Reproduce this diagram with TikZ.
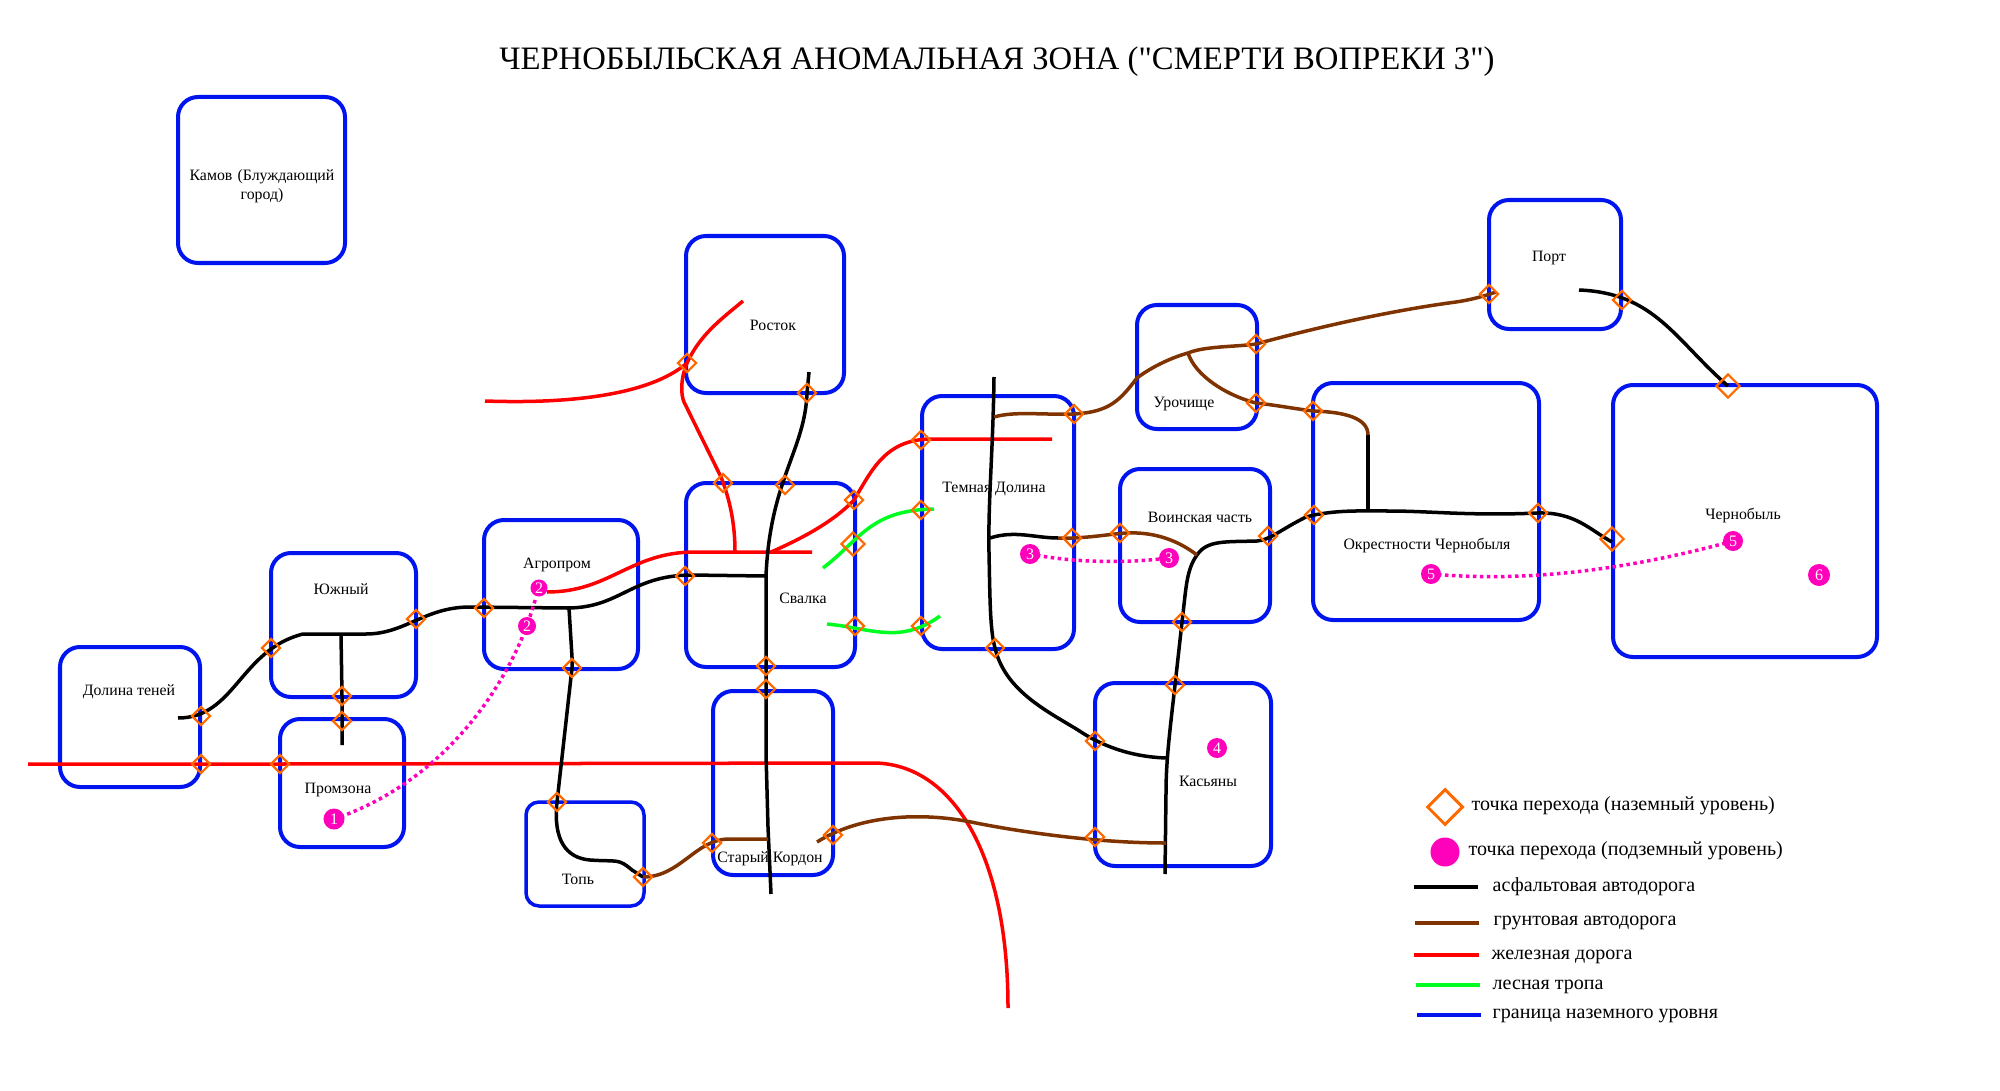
\documentclass[tikz,border=0pt]{standalone}
\usepackage{fontspec}
\setmainfont[Ligatures=TeXOff]{Liberation Serif}
\usetikzlibrary{shapes.geometric,backgrounds}
\definecolor{zoneblue}{RGB}{0,20,240}
\definecolor{transorange}{RGB}{255,106,0}
\definecolor{undermag}{RGB}{255,0,187}
\definecolor{dirtbrown}{RGB}{127,51,0}
\definecolor{forestgreen}{RGB}{0,255,33}
\tikzset{
  zone/.style={draw=zoneblue,line width=.04cm,rounded corners=.2cm},
  zonename/.style={font=\fontsize{4.5pt}{5.4pt}\selectfont,inner sep=0pt,align=center},
  trans/.style={draw=transorange,shape=diamond,aspect=1,line width=.022cm,inner sep=0pt,minimum size=.19cm},
  bigtrans/.style={trans,minimum size=.24cm},
  under/.style={circle,fill=undermag,text=white,inner sep=0pt,minimum size=.2cm,font=\fontsize{4.55pt}{5.4pt}\selectfont},
  asphalt/.style={draw=black,line width=.035cm},
  dirt/.style={draw=dirtbrown,line width=.035cm},
  rail/.style={draw=red,line width=.035cm},
  trail/.style={draw=forestgreen,line width=.035cm},
  tunnel/.style={draw=undermag,line width=.035cm,dash pattern=on .035cm off .035cm},
  legendtext/.style={font=\fontsize{5.7pt}{6.8pt}\selectfont,inner sep=0pt,anchor=west},
}
\begin{document}
\begin{tikzpicture}[x=.01cm,y=-.01cm]
\useasboundingbox (0,0) rectangle (2000,1091);

\node[font=\fontsize{9.3pt}{11pt}\selectfont,inner sep=0pt] (title) at (997,62) {ЧЕРНОБЫЛЬСКАЯ АНОМАЛЬНАЯ ЗОНА ("СМЕРТИ ВОПРЕКИ 3")};

% zone names
\node[zonename,text width=.01cm*160] (kamov) at (262,186) {Камов (Блуждающий город)};
\foreach \n/\x/\y/\t in {dolinaten/129/692/Долина теней,yuzhny/341/589/Южный,promzona/338/790/Промзона,
  agroprom/557/565/Агропром,top/578/879/Топь,rostok/773/325/Росток,svalka/803/598/Свалка,
  kordon/770/859/Старый Кордон,temnaya/994/489/Темная Долина,urochishe/1184/404/Урочище,
  voinskaya/1200/517/Воинская часть,kasyany/1208/781/Касьяны,okrest/1427/546/Окрестности Чернобыля,
  port/1549/258/Порт,chernobyl/1743/516/Чернобыль}
  \node[zonename] (\n) at (\x,\y) {\t};

% ground level transitions
\foreach \n/\x/\y in {dolE/201/716,dolR/201/764,proR/280/764,yuW/271/648,yuE/416/619,yuS/342/696,proN/342/721,
  agW/484/608,agS/572/668,topN/557/802,topE/643/877,svW/685/576,rosW/687/363,rosS/807/393,
  svNr/723/483,svNb/785/485,svEr/854/500,svEg/855/626,svS/766/666,korN/766/689,
  temWr/921/440,temWg/921/510,temWl/921/626,temS/995/648,temEu/1074/414,temEl/1072/538,
  voiW/1120/533,voiE/1268/536,voiS/1182/622,kasN/1175/685,uroEu/1256/344,uroEl/1256/403,
  okrWu/1313/411,okrWl/1314/515,okrE/1538/513,porW/1489/294,porE/1622/300,
  korW/712/843,korE/833/835,kasWu/1095/741,kasWl/1095/837}
  \node[trans] (\n) at (\x,\y) {};
\node[bigtrans] (svEb) at (853,544) {};
\node[bigtrans] (cheN) at (1728,386) {};
\node[bigtrans] (cheW) at (1612,539) {};

% underground level transitions
\node[under,minimum size=.21cm] (uA) at (334,819) {1};
\node[under,minimum size=.17cm] (uBa) at (539,588) {2};
\node[under,minimum size=.18cm] (uBb) at (527,626) {2};
\node[under] (uCa) at (1030,554) {3};
\node[under] (uCb) at (1169,558) {3};
\node[under] (uD) at (1217,748) {4};
\node[under] (uEa) at (1431,574) {5};
\node[under] (uEb) at (1733,541) {5};
\node[under,minimum size=.22cm] (uF) at (1819,575) {6};

% legend
\node[trans,minimum size=.36cm,line width=.03cm] (legTrans) at (1445,807) {};
\node[legendtext] (legTransT) at (1471,806) {точка перехода (наземный уровень)};
\node[legendtext] (legUnderT) at (1468,851) {точка перехода (подземный уровень)};
\node[under,minimum size=.29cm] (legUnder) at (1445,852) {};
\node[legendtext] (legAsph) at (1492,887) {асфальтовая автодорога};
\node[legendtext] (legDirt) at (1493,923) {грунтовая автодорога};
\node[legendtext] (legRail) at (1491,957) {железная дорога};
\node[legendtext] (legTrail) at (1492,987) {лесная тропа};
\node[legendtext] (legZone) at (1492,1016) {граница наземного уровня};
\coordinate (la) at (1414,887); \coordinate (lb) at (1415,923); \coordinate (lc) at (1414,955);
\coordinate (ld) at (1416,985); \coordinate (le) at (1417,1015);
\draw[asphalt] (la) -- ++(64,0);
\draw[dirt] (lb) -- ++(64,0);
\draw[rail] (lc) -- ++(65,0);
\draw[trail] (ld) -- ++(64,0);
\draw[draw=zoneblue,line width=.04cm] (le) -- ++(64,0);

\begin{scope}[on background layer]
% zones
\draw[zone] (178,97) rectangle (345,263);
\draw[zone] (60,647) rectangle (200,787);
\draw[zone] (271,553) rectangle (416,697);
\draw[zone] (280,719) rectangle (404,847);
\draw[zone] (484,520) rectangle (638,669);
\draw[zone,line width=.035cm,rounded corners=.13cm] (526,802) rectangle (644,906);
\draw[zone] (686,236) rectangle (844,393);
\draw[zone] (686,483) rectangle (855,667);
\draw[zone] (713,691) rectangle (833,875);
\draw[zone] (922,396) rectangle (1074,649);
\draw[zone] (1137,305) rectangle (1257,429);
\draw[zone] (1120,469) rectangle (1270,622);
\draw[zone] (1095,683) rectangle (1271,866);
\draw[zone] (1313,383) rectangle (1539,620);
\draw[zone] (1489,200) rectangle (1621,329);
\draw[zone] (1613,385) rectangle (1877,657);

% railways
\draw[rail] (28,764) -- (dolR.center) -- (proR.center) -- (873,763)
  .. controls (950,763) and (1008,850) .. (1008,1008);
\draw[rail] (485,401) .. controls (570,404) and (650,395) .. (rosW.center) .. controls (700,335) and (720,320) .. (743,301);
\draw[rail] (rosW.center) .. controls (680,380) and (681,395) .. (684,402) -- (721,477) .. controls (732,505) and (735,530) .. (735,552);
\draw[rail] (547,592) .. controls (610,592) and (630,552) .. (695,552) -- (812,552);
\draw[rail] (771,552) .. controls (815,533) and (840,515) .. (svEr.center) .. controls (872,470) and (885,440) .. (930,439) -- (1052,439);

% asphalt roads
\draw[asphalt] (178,718) .. controls (235,718) and (240,650) .. (303,634) -- (366,634)
  .. controls (405,634) and (425,607) .. (470,607) -- (567,608)
  .. controls (620,608) and (630,576) .. (690,575) -- (765,576);
\draw[asphalt] (341,634) -- (yuS.center) -- (proN.center) -- (342,745);
\draw[asphalt] (569,608) -- (572,657) -- (agS.center) -- (topN.center)
  .. controls (553,840) and (566,858) .. (590,860) .. controls (618,862) and (618,858) .. (632,870) -- (topE.center);
\draw[asphalt] (809,372) -- (rosS.center) .. controls (805,450) and (770,480) .. (766,576) -- (svS.center) -- (korN.center) -- (766,753) -- (768,827) -- (771,894);
\draw[asphalt] (994,377) .. controls (993,453) and (988,500) .. (989,553) .. controls (990,600) and (990,630) .. (temS.center)
  .. controls (1005,690) and (1045,710) .. (1078,730) .. controls (1100,745) and (1130,757) .. (1167,758);
\draw[asphalt] (990,538) .. controls (1015,530) and (1035,538) .. (1058,538);
\draw[asphalt] (1197,555) .. controls (1186,570) and (1186,590) .. (voiS.center) -- (kasN.center) .. controls (1170,730) and (1166,760) .. (1166,793) -- (1165,874);
\draw[asphalt] (1197,555) .. controls (1207,540) and (1225,542) .. (1257,541) .. controls (1270,540) and (1280,530) .. (1306,517)
  -- (okrWl.center) .. controls (1340,510) and (1360,511) .. (1389,511) .. controls (1430,511) and (1470,516) .. (okrE.center)
  .. controls (1575,512) and (1590,530) .. (1612,542);
\draw[asphalt] (1368,435) -- (1368,511);
\draw[asphalt] (1579,290) .. controls (1655,293) and (1675,340) .. (cheN.center);

% dirt roads
\draw[dirt] (topE.center) .. controls (680,877) and (695,840) .. (728,839) -- (768,839);
\draw[dirt] (817,842) .. controls (860,815) and (920,812) .. (971,822) .. controls (1010,830) and (1090,843) .. (1166,843);
\draw[dirt] (1058,538) -- (temEl.center) .. controls (1100,537) and (1120,532) .. (1137,533) .. controls (1160,534) and (1180,542) .. (1197,555);
\draw[dirt] (1368,435) .. controls (1368,418) and (1345,412) .. (okrWu.center) .. controls (1290,408) and (1275,405) .. (uroEl.center) .. controls (1225,395) and (1195,375) .. (1188,353);
\draw[dirt] (994,417) .. controls (1015,411) and (1040,415) .. (temEu.center) .. controls (1110,412) and (1120,400) .. (1137,378)
  .. controls (1150,368) and (1170,358) .. (1188,353) .. controls (1205,346) and (1235,347) .. (uroEu.center)
  .. controls (1300,332) and (1380,312) .. (1456,302) .. controls (1470,300) and (1485,296) .. (1496,292);

% forest trails
\draw[trail] (823,568) .. controls (860,540) and (870,510) .. (934,509);
\draw[trail] (827,624) .. controls (870,628) and (900,645) .. (940,616);

% underground links
\draw[tunnel] (uA.center) .. controls (420,790) and (490,720) .. (uBb.center);
\draw[tunnel] (uBb) -- (uBa);
\draw[tunnel] (uCa.center) .. controls (1070,562) and (1120,564) .. (uCb.center);
\draw[tunnel] (uEa.center) .. controls (1520,582) and (1620,572) .. (uEb.center);
\end{scope}
\end{tikzpicture}
\end{document}
